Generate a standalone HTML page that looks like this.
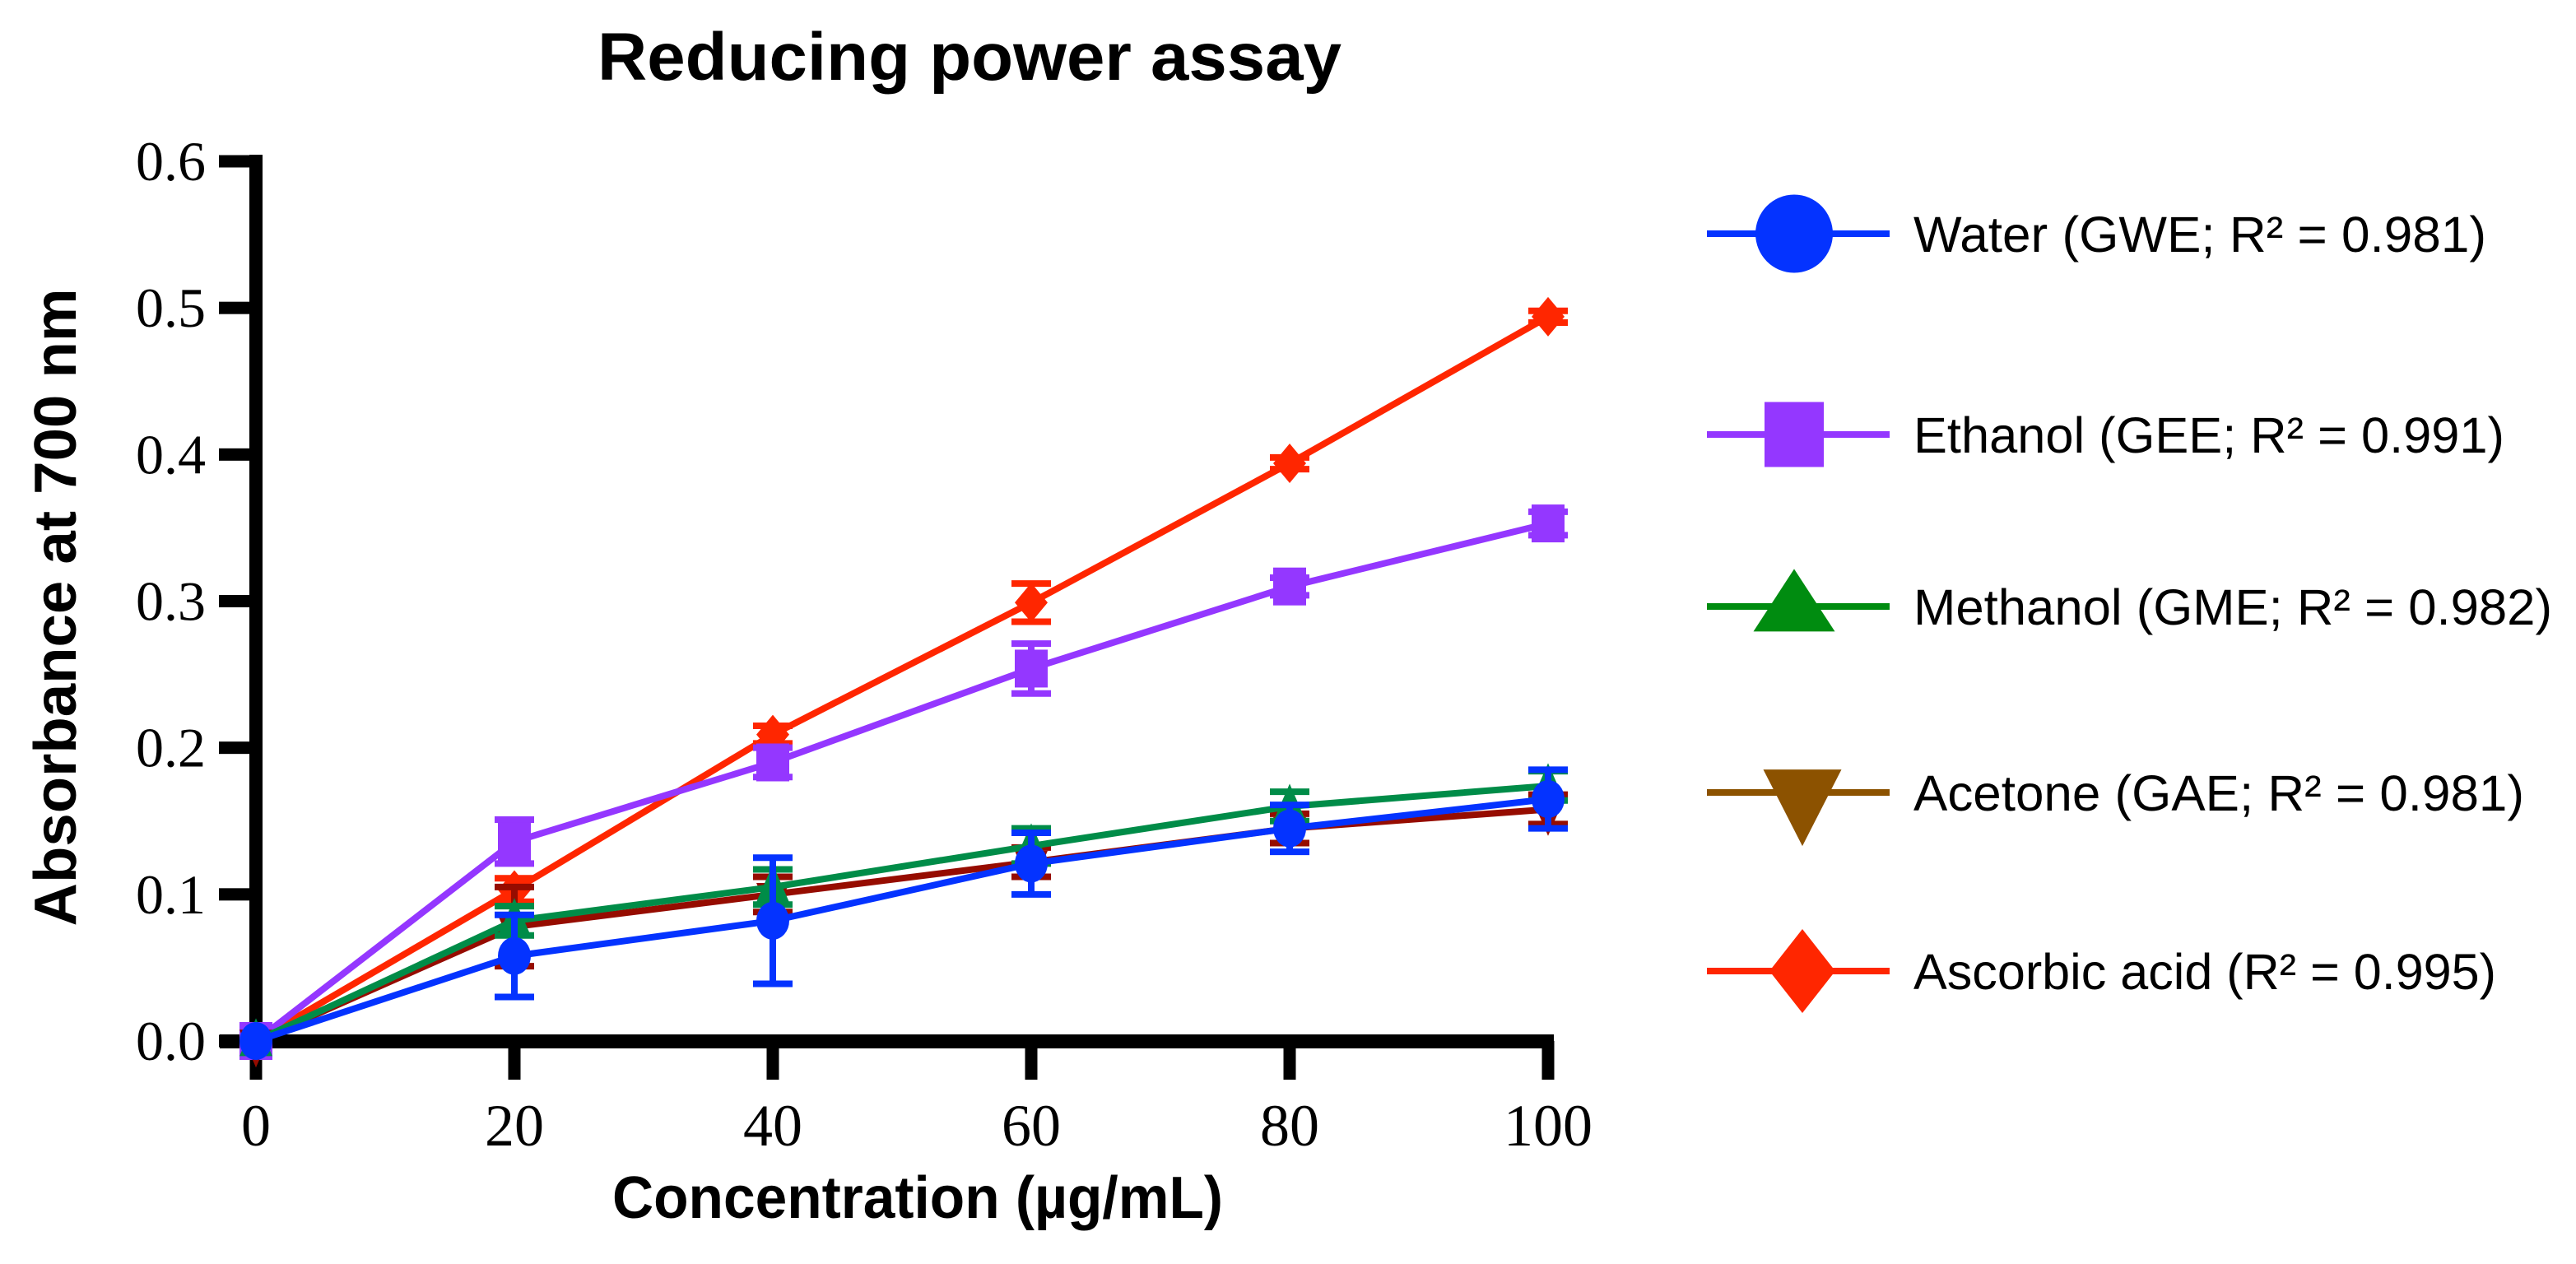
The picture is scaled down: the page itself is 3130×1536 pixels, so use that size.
<!DOCTYPE html>
<html><head><meta charset="utf-8"><style>
html,body{margin:0;padding:0;background:#fff;}
svg{display:block;}
</style></head><body>
<svg id="chart" width="3130" height="1536" viewBox="0 0 3130 1536" xmlns="http://www.w3.org/2000/svg">
<rect width="3130" height="1536" fill="#fff"/>
<text x="1178" y="97" text-anchor="middle" font-family="Liberation Sans, sans-serif" font-weight="bold" font-size="82" textLength="904" lengthAdjust="spacingAndGlyphs">Reducing power assay</text>
<g id="axes"></g>
<g id="series"></g>
<g id="legend"></g>
<text x="1115" y="1480" text-anchor="middle" font-family="Liberation Sans, sans-serif" font-weight="bold" font-size="72" textLength="742" lengthAdjust="spacingAndGlyphs">Concentration (µg/mL)</text>
<text transform="translate(92,738) rotate(-90)" x="0" y="0" text-anchor="middle" font-family="Liberation Sans, sans-serif" font-weight="bold" font-size="72" textLength="775" lengthAdjust="spacingAndGlyphs">Absorbance at 700 nm</text>
</svg>
<script>
const xCategories = [0, 20, 40, 60, 80, 100];
const xTickLabels = ["0", "20", "40", "60", "80", "100"];
const yTicks = [0, 0.1, 0.2, 0.3, 0.4, 0.5, 0.6];
const yTickLabels = ["0.0", "0.1", "0.2", "0.3", "0.4", "0.5", "0.6"];
const waterValues = [0, 0.058, 0.082, 0.121, 0.145, 0.165];
const waterErrors = [0, 0.028, 0.043, 0.021, 0.016, 0.02];
const ethanolValues = [0, 0.136, 0.19, 0.254, 0.31, 0.353];
const ethanolErrors = [0, 0.015, 0.01, 0.017, 0.006, 0.008];
const methanolValues = [0, 0.082, 0.105, 0.133, 0.16, 0.174];
const methanolErrors = [0, 0.01, 0.012, 0.012, 0.01, 0.01];
const acetoneValues = [0, 0.078, 0.1, 0.122, 0.145, 0.158];
const acetoneErrors = [0, 0.027, 0.012, 0.01, 0.01, 0.01];
const ascorbicValues = [0, 0.103, 0.209, 0.299, 0.394, 0.494];
const ascorbicErrors = [0, 0.008, 0.006, 0.013, 0.004, 0.004];
const seriesNames = ["Ascorbic acid (R² = 0.995)", "Ethanol (GEE; R² = 0.991)", "Acetone (GAE; R² = 0.981)", "Methanol (GME; R² = 0.982)", "Water (GWE; R² = 0.981)"];

const NS = "http://www.w3.org/2000/svg";
const X0 = 311, X1 = 1881, Y0 = 1265, Y1 = 196;
function xScale(v){ return X0 + (v - 0) / 100 * (X1 - X0); }
function yScale(v){ return Y0 - v / 0.6 * (Y0 - Y1); }
function mk(tag, attrs, parent){ const e = document.createElementNS(NS, tag); for (const k in attrs) e.setAttribute(k, attrs[k]); parent.appendChild(e); return e; }

const axes = document.getElementById('axes');
let a = mk('rect', {x: X0 - 8, y: Y1 - 8, width: 16, height: Y0 - Y1 + 16, fill: '#000'}, axes);


a = mk('rect', {x: 267, y: Y0 - 8, width: X1 - 267 + 7, height: 17, fill: '#000'}, axes);


yTicks.forEach((t, i) => {
  const y = yScale(t);
  const tk = mk('rect', {x: 266, y: y - 7.5, width: X0 - 266, height: 15, fill: '#000'}, axes);
  
  
  const lb = mk('text', {x: 250, y: y + 23, 'text-anchor': 'end', 'font-family': 'Liberation Serif, serif', 'font-size': 68}, axes);
  lb.textContent = yTickLabels[i];
  
  
});
xCategories.forEach((c, i) => {
  const x = xScale(c);
  const tk = mk('rect', {x: x - 7.5, y: Y0, width: 15, height: 1312 - Y0, fill: '#000'}, axes);
  
  
  const lb = mk('text', {x: x, y: 1392, 'text-anchor': 'middle', 'font-family': 'Liberation Serif, serif', 'font-size': 72}, axes);
  lb.textContent = xTickLabels[i];
  
  
});

function marker(shape, cx, cy, w, h, color, parent){
  let e;
  if (shape === 'circle') e = mk('ellipse', {cx: cx, cy: cy, rx: w/2, ry: h/2, fill: color}, parent);
  else if (shape === 'square') e = mk('rect', {x: cx - w/2, y: cy - h/2, width: w, height: h, fill: color}, parent);
  else if (shape === 'up') e = mk('polygon', {points: `${cx},${cy - h*0.6} ${cx + w/2},${cy + h*0.4} ${cx - w/2},${cy + h*0.4}`, fill: color}, parent);
  else if (shape === 'down') e = mk('polygon', {points: `${cx - w/2},${cy - h*0.3} ${cx + w/2},${cy - h*0.3} ${cx},${cy + h*0.7}`, fill: color}, parent);
  else e = mk('polygon', {points: `${cx},${cy - h/2} ${cx + w/2},${cy} ${cx},${cy + h/2} ${cx - w/2},${cy}`, fill: color}, parent);
  return e;
}

const seriesDefs = [
  {key: 'ascorbic-acid', vals: ascorbicValues, errs: ascorbicErrors, color: '#ff2600', lcolor: '#ff2600', shape: 'diamond', lw: 80, lh: 102, lx: 2190, ly: 1180},
  {key: 'ethanol', vals: ethanolValues, errs: ethanolErrors, color: '#9437ff', lcolor: '#9437ff', shape: 'square', lw: 72, lh: 79, lx: 2180, ly: 528},
  {key: 'acetone', vals: acetoneValues, errs: acetoneErrors, color: '#960c00', lcolor: '#8c5200', shape: 'down', lw: 95, lh: 93, lx: 2190, ly: 963},
  {key: 'methanol', vals: methanolValues, errs: methanolErrors, color: '#008c48', lcolor: '#008c10', shape: 'up', lw: 99, lh: 76, lx: 2180, ly: 737},
  {key: 'water', vals: waterValues, errs: waterErrors, color: '#0433ff', lcolor: '#0433ff', shape: 'circle', lw: 94, lh: 95, lx: 2180, ly: 284}
];
const legendText = {
  'water': {t: "Water (GWE; R² = 0.981)", w: 696},
  'ethanol': {t: "Ethanol (GEE; R² = 0.991)", w: 718},
  'methanol': {t: "Methanol (GME; R² = 0.982)", w: 776},
  'acetone': {t: "Acetone (GAE; R² = 0.981)", w: 742},
  'ascorbic-acid': {t: "Ascorbic acid (R² = 0.995)", w: 708}
};
const sg = document.getElementById('series');
seriesDefs.forEach(s => {
  const g = mk('g', {}, sg);
  
  
  const pts = xCategories.map((c, i) => xScale(c) + ',' + yScale(s.vals[i])).join(' ');
  const pl = mk('polyline', {points: pts, fill: 'none', stroke: s.color, 'stroke-width': 8, 'stroke-linejoin': 'round'}, g);
  
  
  xCategories.forEach((c, i) => {
    const x = xScale(c), v = s.vals[i], e = s.errs[i];
    if (e > 0) {
      const eb = mk('path', {d: `M${x},${yScale(v + e)} V${yScale(v - e)} M${x - 24},${yScale(v + e)} H${x + 24} M${x - 24},${yScale(v - e)} H${x + 24}`, stroke: s.color, 'stroke-width': 8, fill: 'none'}, g);
      
      
    }
    const m = marker(s.shape, x, yScale(v), s.shape === 'diamond' ? 40 : 40, s.shape === 'diamond' ? 48 : 46, s.color, g);
    
    
  });
});

const lg = document.getElementById('legend');
seriesDefs.slice().reverse().forEach(s => {
  const g = mk('g', {}, lg);
  
  
  const ln = mk('line', {x1: 2074, x2: 2296, y1: s.ly, y2: s.ly, stroke: s.lcolor, 'stroke-width': 8}, g);
  
  
  const m = marker(s.shape, s.lx, s.ly, s.lw, s.lh, s.lcolor, g);
  
  
  const tx = mk('text', {x: 2325, y: s.ly + 22, 'font-family': 'Liberation Sans, sans-serif', 'font-size': 61, textLength: legendText[s.key].w, lengthAdjust: 'spacingAndGlyphs'}, g);
  tx.textContent = legendText[s.key].t;
  
  
});
</script>
</body></html>
